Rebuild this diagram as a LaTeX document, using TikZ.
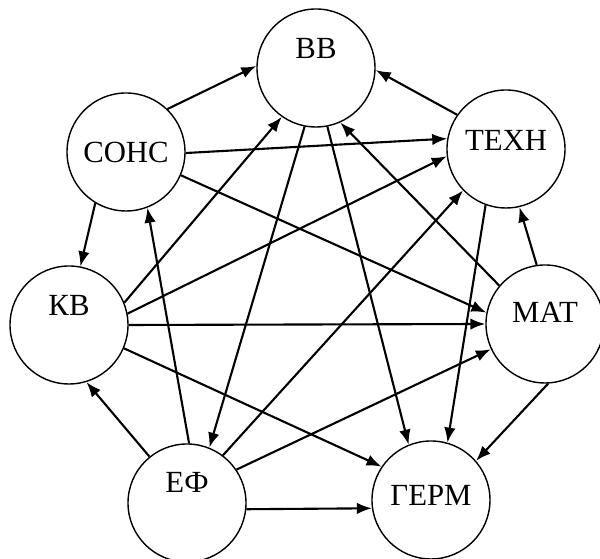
\documentclass[tikz,border=0pt]{standalone}
\usepackage{fontspec}
\setmainfont{Liberation Serif}
\usetikzlibrary{arrows.meta}

\begin{document}
\begin{tikzpicture}[
  krug/.style={draw, circle, line width=0.8pt, minimum size=2.36cm, inner sep=0pt},
  strel/.style={-{Latex[length=3mm,width=2.3mm]}, line width=1.2pt},
  metka/.style={font=\fontsize{17.5}{20}\selectfont}
]
\useasboundingbox (0,0) rectangle (12,11.18);
% circles
\node [krug] (vv) at (6.32,9.82) {};
\node [krug] (sons) at (2.52,8.14) {};
\node [krug] (tehn) at (10.12,8.20) {};
\node [krug] (kv) at (1.38,4.68) {};
\node [krug] (mat) at (10.90,4.70) {};
\node [krug] (ef) at (3.74,1.12) {};
\node [krug] (germ) at (8.62,1.18) {};
% labels
\node [metka, yshift=0.40cm] (vvt) at (vv) {ВВ};
\node [metka] (sonst) at (sons) {СОНС};
\node [metka, yshift=0.18cm] (tehnt) at (tehn) {ТЕХН};
\node [metka, yshift=0.40cm] (kvt) at (kv) {КВ};
\node [metka, yshift=0.24cm] (matt) at (mat) {МАТ};
\node [metka, yshift=0.42cm] (eft) at (ef) {ЕФ};
\node [metka, yshift=0.10cm] (germt) at (germ) {ГЕРМ};
% arrows
\draw [strel] (sons.46) -- (vv.178);
\draw [strel] (sons.-1) -- (tehn.170);
\draw [strel] (sons.-23) -- (mat.169);
\draw [strel] (sons.-121) -- (kv.79);
\draw [strel] (tehn.145) -- (vv.-2);
\draw [strel] (mat.140) -- (vv.-66);
\draw [strel] (mat.98) -- (tehn.-77);
\draw [strel] (mat.-87) -- (germ.41);
\draw [strel] (tehn.-110) -- (germ.74);
\draw [strel] (vv.-101) -- (ef.68);
\draw [strel] (vv.-79) -- (germ.112);
\draw [strel] (kv.22) -- (vv.-125);
\draw [strel] (kv.11) -- (tehn.-173);
\draw [strel] (kv.0) -- (mat.180);
\draw [strel] (kv.-23) -- (germ.146);
\draw [strel] (ef.129) -- (kv.-73);
\draw [strel] (ef.88) -- (sons.-69);
\draw [strel] (ef.53) -- (tehn.-136);
\draw [strel] (ef.34) -- (mat.-155);
\draw [strel] (ef.-6) -- (germ.-172);
\end{tikzpicture}
\end{document}
